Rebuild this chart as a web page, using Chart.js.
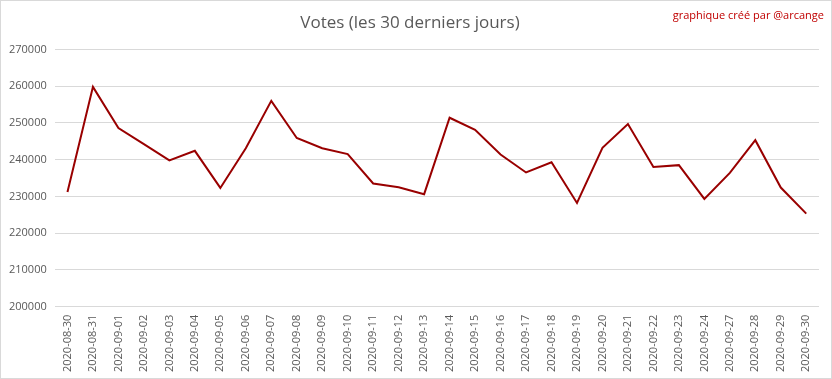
<!DOCTYPE html>
<html>
<head>
<meta charset="utf-8">
<script src="https://cdn.jsdelivr.net/npm/chart.js@4"></script>
<style>
  html, body { margin: 0; padding: 0; background: #fff; }
  #wrap { width: 832px; height: 379px; box-sizing: border-box; border: 1px solid #d9d9d9; position: relative; }
  #credit { position: absolute; right: 7px; top: 6px; font-family: "Open Sans", sans-serif; font-size: 11px; color: #c00000; }
</style>
</head>
<body>
<div id="wrap">
  <canvas id="votes-grafica" width="830" height="377"></canvas>
  <div id="credit">graphique créé par @arcange</div>
</div>
<script>
const dates = [
  "2020-08-30", "2020-08-31", "2020-09-01", "2020-09-02", "2020-09-03",
  "2020-09-04", "2020-09-05", "2020-09-06", "2020-09-07", "2020-09-08",
  "2020-09-09", "2020-09-10", "2020-09-11", "2020-09-12", "2020-09-13",
  "2020-09-14", "2020-09-15", "2020-09-16", "2020-09-17", "2020-09-18",
  "2020-09-19", "2020-09-20", "2020-09-21", "2020-09-22", "2020-09-23",
  "2020-09-24", "2020-09-27", "2020-09-28", "2020-09-29", "2020-09-30"
];
const votes = [
  231200, 259800, 248600, 244200, 239800,
  242400, 232300, 243100, 256000, 245900,
  243100, 241500, 233500, 232500, 230600,
  251400, 248100, 241400, 236500, 239300,
  228200, 243200, 249700, 238000, 238500,
  229300, 236400, 245300, 232400, 225300
];
const yMin = 200000;
const yMax = 270000;
const yStep = 10000;

(function () {
  const ctx = document.getElementById("votes-grafica");
  Chart.defaults.font.family = "'Open Sans', sans-serif";
  Chart.defaults.color = "#595959";

  new Chart(ctx, {
    type: "line",
    data: {
      labels: dates,
      datasets: [
        {
          data: votes,
          borderColor: "#990000",
          borderWidth: 2,
          pointRadius: 0,
          tension: 0,
          fill: false,
        },
      ],
    },
    options: {
      responsive: false,
      animation: false,
      layout: { padding: { left: 0, right: 12, top: 4, bottom: 6 } },
      plugins: {
        legend: { display: false },
        tooltip: { enabled: false },
        title: {
          display: true,
          text: "Votes (les 30 derniers jours)",
          color: "#595959",
          font: { size: 17, weight: "normal" },
          padding: { top: 8, bottom: 16 },
        },
      },
      scales: {
        x: {
          offset: true,
          grid: { display: false },
          border: { display: false },
          ticks: {
            maxRotation: 90,
            minRotation: 90,
            autoSkip: false,
            font: { size: 11 },
            padding: 0,
          },
        },
        y: {
          min: yMin,
          max: yMax,
          grid: { color: "#d9d9d9", drawTicks: false },
          border: { display: false },
          ticks: {
            stepSize: yStep,
            font: { size: 11 },
            padding: 8,
            callback: (v) => String(v),
          },
        },
      },
    },
  });
})();
</script>
</body>
</html>
